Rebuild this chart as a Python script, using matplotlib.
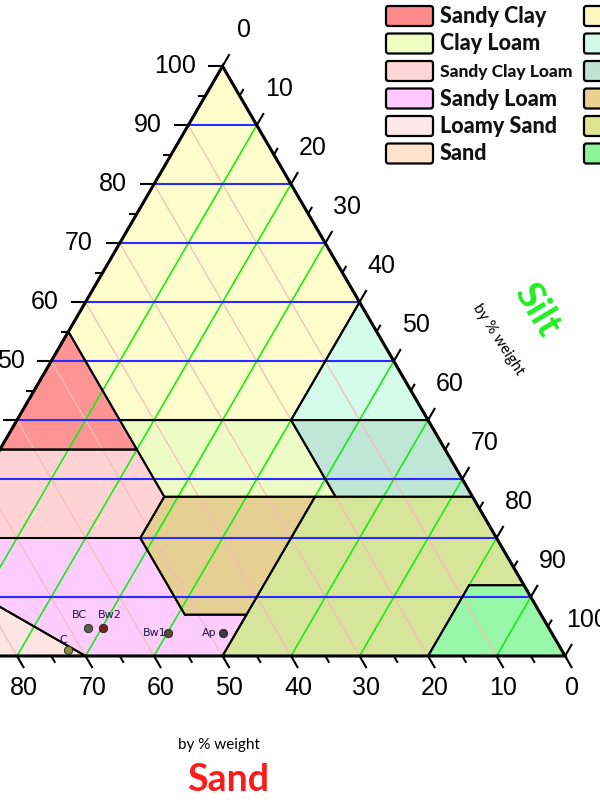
import numpy as np
import matplotlib
matplotlib.use('Agg')
import matplotlib.pyplot as plt
from matplotlib.patches import Polygon, FancyBboxPatch

# USDA texture classes, vertices as (sand %, clay %)
class_names = ['Clay', 'Silty Clay', 'Silty Clay Loam', 'Sandy Clay', 'Clay Loam',
               'Sandy Clay Loam', 'Loam', 'Silt Loam', 'Silt', 'Sandy Loam',
               'Loamy Sand', 'Sand']
class_colors = ['#fffdcc', '#d5fbea', '#bfe6d6', '#ff9494', '#edfcc5',
                '#ffd3d3', '#e5cf93', '#d7e59a', '#99f7aa', '#ffccff',
                '#ffe4e4', '#ffe3cc']
class_sand = [[0, 45, 45, 20, 0], [0, 20, 0], [20, 0, 0, 20], [45, 65, 45],
              [45, 20, 20, 45], [65, 45, 45, 52, 80], [45, 23, 43, 52, 52],
              [23, 0, 0, 8, 20, 50, 43], [0, 0, 20, 8],
              [80, 52, 52, 43, 50, 70, 85], [85, 70, 85, 90], [90, 85, 100]]
class_clay = [[100, 55, 40, 40, 60], [60, 40, 40], [40, 40, 27, 27], [55, 35, 35],
              [40, 40, 27, 27], [35, 35, 27, 20, 20], [27, 27, 7, 7, 20],
              [27, 27, 12, 12, 0, 0, 7], [12, 0, 0, 12],
              [20, 20, 7, 7, 0, 0, 15], [15, 0, 0, 10], [10, 0, 0]]

# legend layout in the picture (two columns, second one cut by the edge)
legend_col1 = ['Sandy Clay', 'Clay Loam', 'Sandy Clay Loam', 'Sandy Loam', 'Loamy Sand', 'Sand']
legend_col2 = ['Clay', 'Silty Clay', 'Silty Clay Loam', 'Loam', 'Silt Loam', 'Silt']
legend_c1_colors = ['#ff8a8a', '#eeffc0', '#ffd5d5', '#ffc8ff', '#ffe8ea', '#ffe3cc']
legend_c2_colors = ['#fff7c2', '#d2faea', '#bee3d3', '#ebd093', '#dde68f', '#8cf59a']

# soil horizons
sample_names = ['C', 'BC', 'Bw2', 'Bw1', 'Ap']
sample_sand = [72.0, 67.3, 65.1, 56.0, 48.0]
sample_clay = [1.0, 4.7, 4.7, 3.9, 3.9]
sample_colors = ['#8a8a3a', '#5e5e40', '#6e2a1e', '#5a4a35', '#3a3a3a']
sample_offsets = [(-4, 7), (-6, 9.5), (5, 9.5), (-9.5, 0), (-9.5, 0)]

H = np.sqrt(3) / 2


def tern(sand, clay):
    sand = np.asarray(sand, float)
    clay = np.asarray(clay, float)
    return 100 - sand - clay / 2, clay * H


fig = plt.figure(figsize=(6, 8), dpi=100)
ax = fig.add_axes([0, 0, 1, 1])
xmin, xmax = 17.52, 105.1
ax.set_xlim(xmin, xmax)
ax.set_ylim(-21.15, 96.33)
ax.axis('off')

# filled classes
for col, sa, cl in zip(class_colors, class_sand, class_clay):
    x, y = tern(sa, cl)
    ax.add_patch(Polygon(np.column_stack([x, y]), closed=True, facecolor=col,
                         edgecolor='none', zorder=1))

# grid
levels = np.arange(10, 100, 10)
for v in levels:
    x, y = tern([v, v], [0, 100 - v])           # constant sand
    ax.plot(x, y, color='#f7bcb6', lw=0.9, zorder=2)
for v in levels:
    x, y = tern([100 - v, 0], [0, 100 - v])     # constant silt
    ax.plot(x, y, color='#14ee14', lw=1.2, zorder=2)
for v in levels:
    x, y = tern([100 - v, 0], [v, v])           # constant clay
    ax.plot(x, y, color='#2b2bff', lw=1.5, zorder=2)

# class boundaries
for sa, cl in zip(class_sand, class_clay):
    x, y = tern(sa, cl)
    ax.add_patch(Polygon(np.column_stack([x, y]), closed=True, fill=False,
                         edgecolor='black', lw=1.4, zorder=3))

# outer triangle
x, y = tern([100, 0, 0, 100], [0, 0, 100, 0])
ax.plot(x, y, color='black', lw=2.2, zorder=4, solid_joinstyle='miter')

# ticks and labels
major = np.arange(0, 101, 10)
minor = np.arange(5, 100, 10)
tick_font = dict(fontsize=18, family='Liberation Sans', color='black')
for vals, L in ((major, 1.9), (minor, 1.0)):
    for v in vals:
        # clay, left side
        px, py = tern(100 - v, v)
        ax.plot([px - L, px], [py, py], color='black', lw=1.5, zorder=4, clip_on=False)
        # silt, right side
        px, py = tern(0, 100 - v)
        ax.plot([px, px + 0.5 * L], [py, py + H * L], color='black', lw=1.5, zorder=4, clip_on=False)
        # sand, bottom
        px, py = tern(v, 0)
        ax.plot([px, px + 0.5 * L], [py, py - H * L], color='black', lw=1.5, zorder=4, clip_on=False)

for v in major:
    px, py = tern(100 - v, v)
    if px - 3.9 > xmin:
        ax.text(px - 3.9, py, str(v), ha='right', va='center', **tick_font)
    px, py = tern(0, 100 - v)
    ax.text(px + 3.2, py + 5.3, str(v), ha='center', va='center', **tick_font)
    px, py = tern(v, 0)
    if px + 1.0 > xmin:
        ax.text(px + 1.0, py - 4.7, str(v), ha='center', va='center', **tick_font)

# axis titles
ax.text(50.8, -18.2, 'Sand', color='#ff1a1a', fontsize=27, fontweight='bold',
        family='Lato', ha='center', va='center')
ax.text(49.5, -13.1, 'by % weight', color='black', fontsize=11,
        family='Lato', ha='center', va='center')
ax.text(95.9, 50.8, 'Silt', color='#22ee22', fontsize=28, fontweight='bold',
        family='Lato', ha='center', va='center', rotation=-59, rotation_mode='anchor')
ax.text(90.2, 46.4, 'by % weight', color='black', fontsize=11,
        family='Lato', ha='center', va='center', rotation=-57, rotation_mode='anchor')

# samples
sx, sy = tern(sample_sand, sample_clay)
for name, x0, y0, c, off in zip(sample_names, sx, sy, sample_colors, sample_offsets):
    ax.plot(x0, y0, 'o', ms=6, color=c, mec='#222222', mew=0.6, zorder=6)
    ax.annotate(name, (x0, y0), xytext=off, textcoords='offset points',
                ha='center', va='center', fontsize=8, color='#1a1a40', zorder=6)

# legend drawn in pixel space
lax = fig.add_axes([0, 0, 1, 1])
lax.set_xlim(0, 600)
lax.set_ylim(800, 0)
lax.axis('off')
for i, (lab, c1, c2) in enumerate(zip(legend_col1, legend_c1_colors, legend_c2_colors)):
    yc = 16 + 27.5 * i
    lax.add_patch(FancyBboxPatch((386, yc - 10), 47, 20, boxstyle='round,pad=0,rounding_size=2.5',
                                 facecolor=c1, edgecolor='black', lw=1.6))
    lax.add_patch(FancyBboxPatch((584, yc - 10), 47, 20, boxstyle='round,pad=0,rounding_size=2.5',
                                 facecolor=c2, edgecolor='black', lw=1.6))
    fs = 12.5 if lab == 'Sandy Clay Loam' else 15.5
    lax.text(440, yc + 0.5, lab, fontsize=fs, fontweight='black', family='Lato',
             ha='left', va='center', color='#111111')

fig.savefig('out.png', dpi=100)
